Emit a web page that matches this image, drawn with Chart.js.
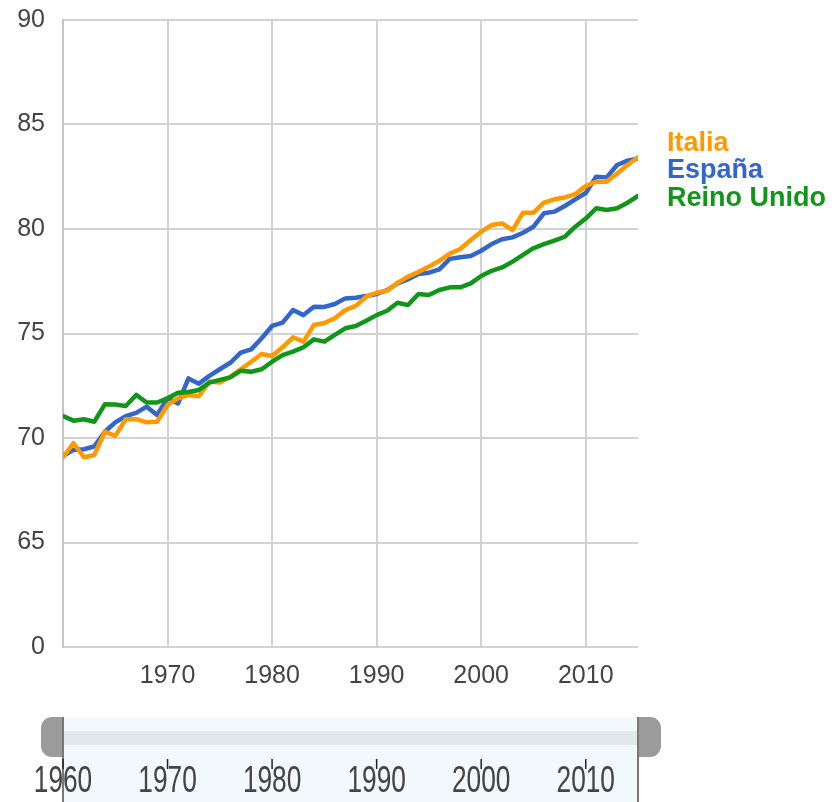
<!DOCTYPE html>
<html>
<head>
<meta charset="utf-8">
<script src="https://cdn.jsdelivr.net/npm/chart.js@4"></script>
<style>
  html, body { margin: 0; padding: 0; background: #fff; }
  #wrap { width: 834px; height: 802px; position: relative; }
</style>
</head>
<body>
<div id="wrap"><canvas id="lifeChart"></canvas></div>
<script>
const years = [1960, 1961, 1962, 1963, 1964, 1965, 1966, 1967, 1968, 1969,
  1970, 1971, 1972, 1973, 1974, 1975, 1976, 1977, 1978, 1979,
  1980, 1981, 1982, 1983, 1984, 1985, 1986, 1987, 1988, 1989,
  1990, 1991, 1992, 1993, 1994, 1995, 1996, 1997, 1998, 1999,
  2000, 2001, 2002, 2003, 2004, 2005, 2006, 2007, 2008, 2009,
  2010, 2011, 2012, 2013, 2014, 2015];

const italia = [69.08, 69.75, 69.08, 69.19, 70.3, 70.1, 70.9, 70.9, 70.75, 70.78,
  71.58, 71.9, 72.06, 72.0, 72.7, 72.65, 72.93, 73.29, 73.65, 74.02,
  73.92, 74.34, 74.82, 74.61, 75.41, 75.5, 75.73, 76.12, 76.32, 76.76,
  76.95, 77.05, 77.42, 77.72, 77.94, 78.2, 78.48, 78.82, 79.04, 79.47,
  79.87, 80.19, 80.27, 79.95, 80.78, 80.78, 81.26, 81.42, 81.51, 81.67,
  82.05, 82.26, 82.26, 82.66, 83.06, 83.43];

const espana = [69.14, 69.43, 69.46, 69.6, 70.3, 70.75, 71.05, 71.2, 71.5, 71.1,
  71.9, 71.65, 72.85, 72.6, 72.97, 73.29, 73.6, 74.08, 74.24, 74.77,
  75.36, 75.52, 76.12, 75.88, 76.28, 76.27, 76.41, 76.68, 76.71, 76.79,
  76.89, 77.08, 77.4, 77.59, 77.85, 77.91, 78.07, 78.57, 78.65, 78.71,
  78.96, 79.28, 79.51, 79.6, 79.82, 80.11, 80.75, 80.83, 81.1, 81.42,
  81.72, 82.5, 82.47, 83.06, 83.27, 83.38];

const reinoUnido = [71.05, 70.83, 70.9, 70.78, 71.61, 71.6, 71.53, 72.06, 71.7, 71.7,
  71.9, 72.17, 72.2, 72.3, 72.65, 72.78, 72.9, 73.22, 73.17, 73.29,
  73.65, 73.97, 74.13, 74.34, 74.72, 74.61, 74.93, 75.25, 75.36, 75.61,
  75.88, 76.09, 76.47, 76.36, 76.89, 76.84, 77.08, 77.21, 77.21, 77.4,
  77.75, 78.0, 78.16, 78.44, 78.76, 79.08, 79.28, 79.44, 79.63, 80.11,
  80.5, 80.99, 80.91, 80.99, 81.26, 81.58];

const yTickValues = [60, 65, 70, 75, 80, 85, 90];
const yTickLabels = ["0", "65", "70", "75", "80", "85", "90"];
const xTickValues = [1970, 1980, 1990, 2000, 2010];
const sliderTicks = [1960, 1970, 1980, 1990, 2000, 2010];
const rangeStart = 1960;
const rangeEnd = 2015;

const FONT = "'Liberation Sans', Arial, sans-serif";
const labelColor = "#444444";

function points(values) {
  return years.map((yr, i) => ({ x: yr, y: values[i] }));
}

// names drawn at the right end of each line, pushed apart when they collide
const endLabels = {
  id: "endLabels",
  afterDatasetsDraw(chart) {
    const ctx = chart.ctx;
    const gap = 27.5;
    const items = chart.data.datasets.map((ds, i) => {
      const meta = chart.getDatasetMeta(i);
      const last = meta.data[meta.data.length - 1];
      return { text: ds.label, color: ds.borderColor, y: last.y };
    }).sort((a, b) => a.y - b.y);

    // group overlapping labels and centre each group on its mean position
    let groups = items.map(it => ({ list: [it], y: it.y }));
    let merged = true;
    while (merged) {
      merged = false;
      for (let i = 0; i < groups.length - 1; i++) {
        const a = groups[i], b = groups[i + 1];
        const aEnd = a.y + (a.list.length - 1) * gap / 2;
        const bStart = b.y - (b.list.length - 1) * gap / 2;
        if (bStart - aEnd < gap) {
          const list = a.list.concat(b.list);
          const y = list.reduce((s, it) => s + it.y, 0) / list.length;
          groups.splice(i, 2, { list, y });
          merged = true;
          break;
        }
      }
    }

    ctx.save();
    ctx.font = "bold 27px " + FONT;
    ctx.textAlign = "left";
    ctx.textBaseline = "middle";
    groups.forEach(g => {
      g.list.forEach((it, k) => {
        const y = g.y + (k - (g.list.length - 1) / 2) * gap;
        ctx.fillStyle = it.color;
        ctx.fillText(it.text, 667, y);
      });
    });
    ctx.restore();
  }
};

// range filter strip under the chart
const rangeSlider = {
  id: "rangeSlider",
  afterDraw(chart) {
    const ctx = chart.ctx;
    const xs = chart.scales.x;
    const x0 = xs.getPixelForValue(rangeStart);
    const x1 = xs.getPixelForValue(rangeEnd);
    const top = 717, bottom = 802;

    ctx.save();
    ctx.fillStyle = "#f1f9fd";
    ctx.fillRect(x0, top, x1 - x0, bottom - top);
    ctx.fillStyle = "#e1e7ea";
    ctx.fillRect(x0, 731, x1 - x0, 14);

    ctx.fillStyle = "#9b9b9b";
    ctx.beginPath();
    ctx.roundRect(x0 - 22, top, 22, 40, [11, 0, 0, 11]);
    ctx.fill();
    ctx.beginPath();
    ctx.roundRect(x1, top, 23, 40, [0, 11, 11, 0]);
    ctx.fill();

    ctx.strokeStyle = "#777777";
    ctx.lineWidth = 2;
    [x0, x1].forEach(x => {
      ctx.beginPath();
      ctx.moveTo(x, top);
      ctx.lineTo(x, bottom);
      ctx.stroke();
    });

    ctx.strokeStyle = "#222222";
    ctx.lineWidth = 1.5;
    sliderTicks.forEach(v => {
      const x = xs.getPixelForValue(v);
      ctx.beginPath();
      ctx.moveTo(x, 759);
      ctx.lineTo(x, 769);
      ctx.stroke();
    });

    ctx.fillStyle = "#444444";
    ctx.font = "25px " + FONT;
    ctx.textAlign = "center";
    ctx.textBaseline = "middle";
    sliderTicks.forEach(v => {
      const x = xs.getPixelForValue(v);
      ctx.save();
      ctx.translate(x, 782);
      ctx.scale(1.05, 1.5);
      ctx.fillText(String(v), 0, 0);
      ctx.restore();
    });
    ctx.restore();
  }
};

const wrap = document.getElementById("wrap");
const ctx = document.getElementById("lifeChart").getContext("2d");

new Chart(ctx, {
  type: "line",
  data: {
    datasets: [
      {
        label: "Reino Unido",
        data: points(reinoUnido),
        borderColor: "#109618",
        borderWidth: 4.5
      },
      {
        label: "Italia",
        data: points(italia),
        borderColor: "#ff9900",
        borderWidth: 4.5
      },
      {
        label: "España",
        data: points(espana),
        borderColor: "#3366cc",
        borderWidth: 4.5
      }
    ]
  },
  options: {
    responsive: true,
    maintainAspectRatio: false,
    animation: false,
    devicePixelRatio: 1,
    elements: {
      point: { radius: 0, hoverRadius: 0 },
      line: { tension: 0, borderJoinStyle: "round", borderCapStyle: "round" }
    },
    layout: {
      padding: { top: 20, right: 196, bottom: 0, left: 0 }
    },
    plugins: {
      legend: { display: false },
      tooltip: { enabled: false }
    },
    scales: {
      x: {
        type: "linear",
        min: rangeStart,
        max: rangeEnd,
        afterBuildTicks(scale) {
          scale.ticks = xTickValues.map(v => ({ value: v }));
        },
        afterFit(scale) {
          scale.height = 155;
          scale.paddingLeft = 0;
          scale.paddingRight = 0;
        },
        grid: { color: "#d2d2d2", lineWidth: 2, drawTicks: false },
        border: { display: false },
        ticks: {
          color: labelColor,
          font: { family: FONT, size: 25 },
          padding: 14,
          maxRotation: 0,
          callback: v => String(v)
        }
      },
      y: {
        min: 60,
        max: 90,
        afterBuildTicks(scale) {
          scale.ticks = yTickValues.map(v => ({ value: v }));
        },
        afterFit(scale) {
          scale.width = 63;
          scale.paddingTop = 0;
          scale.paddingBottom = 0;
        },
        grid: { color: "#d2d2d2", lineWidth: 2, drawTicks: false },
        border: { display: true, color: "#c4c4c4", width: 2 },
        ticks: {
          color: labelColor,
          font: { family: FONT, size: 25 },
          padding: 18,
          callback: (v, i) => yTickLabels[i]
        }
      }
    }
  },
  plugins: [endLabels, rangeSlider]
});

wrap.style.height = "802px";
</script>
</body>
</html>
